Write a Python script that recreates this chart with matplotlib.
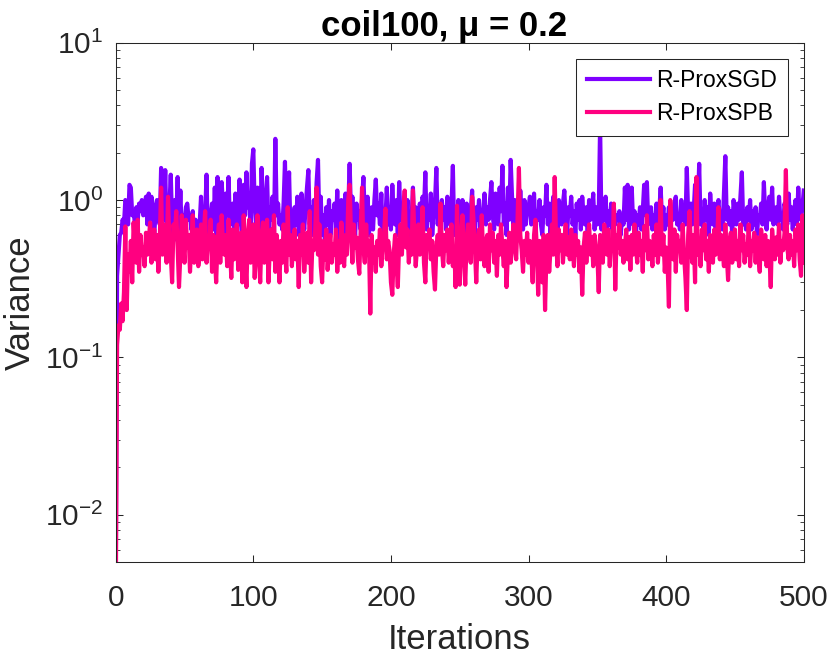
import numpy as np
import matplotlib
matplotlib.use("Agg")
from matplotlib import pyplot as plt
from matplotlib.ticker import LogLocator, NullFormatter

plt.rcParams['font.family'] = ['Liberation Sans', 'DejaVu Sans']
plt.rcParams['mathtext.fontset'] = 'custom'
plt.rcParams['mathtext.rm'] = 'Liberation Sans'
plt.rcParams['axes.unicode_minus'] = False

# values, one per iteration (0..500)
sgd = [
    0.003, 0.33, 0.45, 0.6, 0.62, 0.75, 0.7, 1.0, 0.95, 0.7,
    1.25, 1.2, 0.8, 0.85, 0.7, 0.9, 0.75, 0.95, 0.85, 1.0,
    0.8, 0.9, 1.05, 0.7, 1.1, 0.75, 1.05, 0.9, 0.6, 0.85,
    1.0, 0.8, 0.7, 1.6, 0.85, 0.75, 1.55, 0.6, 0.8, 0.9,
    1.45, 0.7, 0.55, 1.0, 0.75, 1.4, 0.65, 1.15, 0.6, 0.8,
    0.7, 0.9, 0.95, 0.75, 0.8, 0.65, 0.85, 0.5, 0.75, 0.7,
    0.45, 0.7, 1.05, 0.6, 0.9, 0.8, 1.45, 0.55, 0.7, 0.8,
    0.95, 0.65, 1.2, 0.6, 1.4, 0.7, 0.85, 1.3, 0.9, 0.5,
    1.1, 0.8, 1.4, 0.7, 0.85, 0.95, 0.6, 1.1, 0.85, 0.7,
    1.35, 0.75, 0.5, 1.25, 0.8, 1.5, 0.9, 1.05, 0.65, 1.7,
    2.1, 0.9, 0.7, 1.2, 0.75, 0.6, 1.6, 0.85, 0.7, 1.0,
    1.4, 0.65, 0.9, 0.75, 1.05, 0.6, 2.45, 0.8, 0.95, 0.7,
    0.8, 0.65, 0.95, 1.75, 0.7, 1.0, 1.5, 0.6, 0.85, 0.55,
    0.9, 0.7, 1.05, 0.6, 0.75, 1.1, 0.8, 0.65, 0.9, 1.2,
    1.55, 0.7, 0.9, 0.6, 1.0, 0.75, 1.3, 1.8, 0.7, 1.05,
    0.6, 0.8, 0.55, 0.9, 0.7, 1.0, 0.6, 0.85, 0.75, 0.95,
    0.65, 1.15, 0.55, 0.8, 1.0, 0.7, 0.6, 1.1, 0.75, 0.9,
    1.7, 0.8, 1.05, 0.7, 0.6, 0.95, 0.75, 0.85, 0.65, 1.0,
    1.4, 0.8, 0.7, 1.05, 0.6, 0.75, 0.9, 0.65, 1.0, 1.35,
    0.8, 0.95, 0.7, 1.1, 0.6, 0.85, 0.75, 1.2, 0.7, 0.9,
    0.65, 1.25, 0.8, 0.7, 1.0, 0.6, 1.3, 0.75, 0.9, 0.55,
    0.85, 0.7, 1.0, 0.6, 0.8, 0.75, 1.2, 0.65, 0.9, 0.8,
    0.6, 0.95, 0.7, 1.05, 0.85, 1.5, 0.65, 0.9, 0.75, 1.1,
    0.6, 0.8, 0.95, 1.6, 0.7, 0.85, 0.6, 1.0, 0.75, 0.9,
    0.65, 1.05, 0.8, 0.7, 0.9, 1.65, 0.6, 0.8, 0.7, 1.0,
    0.9, 0.65, 1.0, 0.75, 0.6, 0.95, 0.8, 0.7, 0.85, 1.15,
    0.7, 0.6, 0.9, 0.75, 1.0, 0.65, 0.85, 0.8, 1.1, 0.7,
    0.9, 0.75, 1.0, 1.3, 0.8, 0.65, 1.1, 0.85, 0.7, 1.2,
    0.85, 1.65, 0.7, 0.95, 0.6, 1.2, 0.75, 1.8, 1.05, 0.7,
    1.0, 0.6, 0.9, 0.75, 1.15, 0.8, 0.65, 1.0, 0.7, 0.85,
    0.9, 1.05, 0.7, 0.8, 1.1, 0.65, 0.85, 0.75, 1.0, 0.7,
    0.6, 0.9, 0.8, 1.25, 0.7, 0.95, 0.6, 0.85, 1.05, 0.75,
    0.9, 0.65, 1.0, 0.8, 0.7, 0.95, 1.15, 0.75, 0.6, 0.9,
    0.8, 1.05, 0.7, 0.85, 0.6, 0.95, 0.75, 1.0, 0.65, 1.05,
    0.8, 0.7, 0.9, 0.6, 1.0, 0.75, 0.85, 1.1, 0.65, 0.9,
    0.7, 0.8, 3.0, 0.65, 0.9, 0.75, 1.05, 0.6, 0.85, 0.7,
    0.95, 0.65, 0.9, 0.7, 0.8, 0.75, 0.85, 0.6, 0.8, 0.7,
    1.2, 0.75, 1.25, 0.65, 0.9, 1.2, 0.7, 0.85, 0.6, 0.8,
    0.7, 0.9, 0.65, 0.85, 1.25, 0.8, 1.3, 0.7, 0.75, 0.9,
    0.65, 0.8, 0.7, 0.95, 0.6, 0.85, 1.2, 0.75, 0.9, 0.65,
    0.8, 0.7, 0.9, 0.6, 0.85, 0.75, 0.95, 1.05, 0.7, 0.8,
    0.65, 1.0, 0.75, 0.9, 0.7, 1.6, 0.8, 0.65, 0.95, 0.7,
    0.85, 1.25, 0.75, 0.9, 1.7, 0.7, 0.8, 0.65, 1.0, 0.75,
    0.9, 0.6, 1.1, 0.8, 0.7, 0.95, 0.65, 0.85, 1.0, 0.75,
    0.8, 0.65, 1.1, 1.9, 0.75, 0.9, 0.7, 0.85, 0.6, 1.0,
    0.8, 0.7, 0.95, 0.75, 1.05, 1.5, 0.7, 0.85, 0.65, 0.9,
    0.75, 1.0, 0.65, 0.85, 0.7, 0.9, 0.6, 0.8, 0.75, 0.95,
    0.7, 1.3, 0.8, 0.65, 0.9, 1.05, 0.75, 1.2, 0.7, 0.85,
    0.9, 0.7, 1.05, 0.75, 0.8, 0.65, 0.95, 0.85, 0.7, 1.1,
    0.75, 0.9, 0.65, 0.85, 1.0, 0.7, 1.2, 0.8, 0.75, 0.9,
    1.15,
]
spb = [
    0.002, 0.12, 0.16, 0.15, 0.22, 0.17, 0.26, 0.68, 0.2, 0.45,
    0.35, 0.55, 0.3, 0.72, 0.5, 0.4, 0.75, 0.35, 0.6, 0.45,
    0.5, 0.38, 0.62, 0.45, 0.55, 0.72, 0.4, 0.5, 0.65, 0.42,
    0.6, 0.35, 0.55, 1.2, 0.45, 0.7, 0.5, 0.4, 1.05, 0.55,
    0.45, 0.3, 0.7, 0.6, 0.85, 0.5, 0.28, 0.45, 0.8, 0.55,
    0.4, 0.75, 0.5, 0.6, 0.35, 0.55, 0.8, 0.4, 0.5, 0.65,
    0.38, 0.45, 0.7, 0.42, 0.6, 0.85, 0.4, 0.55, 0.5, 0.75,
    0.35, 0.6, 0.45, 0.3, 0.55, 0.7, 0.4, 0.8, 0.5, 0.45,
    0.6, 0.38, 0.75, 0.5, 0.32, 0.65, 0.42, 0.55, 0.7, 0.36,
    0.5, 0.62, 0.3, 0.8, 0.45, 0.28, 0.6, 0.75, 0.4, 0.55,
    0.7, 0.32, 0.5, 0.8, 0.45, 0.3, 0.6, 0.72, 0.4, 0.55,
    0.75, 0.3, 0.5, 0.65, 0.42, 0.8, 0.35, 0.6, 0.45, 0.3,
    0.55, 0.4, 0.7, 0.5, 0.35, 0.9, 0.45, 0.6, 0.38, 0.5,
    0.65, 0.42, 0.55, 0.28, 0.6, 0.45, 0.7, 0.35, 0.5, 0.62,
    0.4, 0.85, 0.3, 0.55, 0.48, 0.65, 1.2, 0.45, 0.7, 0.38,
    0.3, 0.55, 0.42, 0.65, 0.36, 0.5, 0.6, 0.4, 0.52, 0.45,
    0.65, 0.35, 0.55, 0.4, 0.72, 0.48, 0.38, 0.6, 0.45, 1.0,
    1.25, 0.6, 0.4, 0.7, 0.5, 0.58, 0.42, 0.34, 0.65, 1.2,
    0.5, 0.4, 0.7, 0.45, 0.55, 0.19, 0.6, 0.4, 0.5, 0.35,
    0.55, 0.45, 0.65, 0.38, 0.5, 0.6, 0.88, 0.42, 0.55, 0.48,
    0.3, 0.25, 0.45, 0.6, 0.4, 0.28, 0.55, 0.7, 0.45, 0.8,
    1.15, 0.5, 0.65, 0.4, 0.55, 0.45, 1.15, 0.6, 0.38, 0.5,
    0.7, 0.45, 0.55, 0.9, 0.4, 0.3, 0.6, 0.5, 0.65, 0.42,
    0.55, 0.35, 0.27, 0.5, 0.6, 0.45, 0.95, 0.5, 0.38, 0.6,
    0.48, 0.65, 0.4, 0.55, 0.7, 0.38, 0.5, 0.28, 0.92, 0.45,
    0.29, 0.6, 0.8, 0.45, 0.29, 0.55, 0.7, 0.5, 0.4, 1.05,
    0.75, 0.5, 0.3, 0.55, 0.65, 0.42, 0.8, 0.45, 0.38, 0.55,
    0.6, 0.35, 0.7, 0.48, 0.62, 0.4, 0.55, 0.33, 0.6, 0.45,
    0.7, 0.5, 0.38, 0.55, 0.28, 0.45, 0.62, 0.4, 0.5, 0.7,
    0.55, 0.42, 0.75, 1.6, 0.6, 0.48, 0.35, 0.55, 0.45, 0.62,
    0.4, 0.55, 0.45, 0.3, 0.6, 0.75, 0.5, 0.25, 0.55, 0.4,
    0.3, 0.6, 0.2, 0.45, 0.6, 0.35, 0.5, 0.7, 0.45, 1.4,
    0.55, 0.38, 0.65, 0.48, 0.6, 0.4, 0.55, 0.7, 0.45, 0.58,
    0.42, 0.65, 0.5, 0.38, 0.6, 0.45, 0.55, 0.35, 0.5, 0.25,
    0.5, 0.62, 0.4, 0.55, 0.7, 0.45, 0.58, 0.38, 0.6, 0.5,
    0.45, 0.26, 0.6, 0.5, 0.4, 0.7, 0.52, 0.45, 0.65, 0.38,
    0.55, 0.48, 0.95, 0.27, 0.6, 0.5, 0.7, 0.45, 0.55, 0.4,
    0.5, 0.65, 0.42, 0.58, 0.36, 0.6, 0.45, 0.7, 0.5, 0.4,
    0.62, 0.45, 0.55, 0.35, 0.68, 0.48, 0.8, 0.42, 0.55, 0.5,
    0.38, 0.6, 0.45, 0.7, 0.4, 0.55, 1.0, 0.45, 0.6, 0.35,
    0.5, 0.4, 0.21, 1.0, 0.55, 0.42, 0.65, 0.35, 0.6, 0.48,
    0.55, 0.4, 0.7, 0.45, 0.32, 0.2, 0.6, 0.85, 0.5, 0.4,
    0.6, 0.3, 1.4, 0.45, 0.55, 0.38, 0.65, 0.48, 0.7, 0.42,
    0.55, 0.35, 0.6, 0.5, 0.4, 0.65, 0.45, 0.55, 0.9, 0.42,
    0.6, 0.48, 0.38, 0.7, 0.45, 0.31, 0.55, 0.62, 0.4, 0.5,
    0.65, 0.42, 0.55, 0.38, 0.7, 0.48, 0.6, 0.4, 0.52, 0.45,
    0.7, 0.38, 0.55, 0.48, 0.62, 0.4, 0.58, 0.45, 0.35, 0.65,
    0.5, 0.42, 0.6, 0.38, 0.55, 0.45, 0.28, 0.65, 0.5, 0.42,
    0.58, 0.45, 0.7, 0.4, 0.55, 0.48, 0.62, 1.55, 0.5, 0.42,
    0.6, 0.45, 0.55, 0.38, 0.65, 0.48, 0.7, 0.42, 0.33, 0.8,
    0.4,
]
iters = np.arange(len(sgd))

fig = plt.figure(figsize=(8.3, 6.56), dpi=100)
ax = fig.add_axes([0.1394, 0.1433, 0.829, 0.7916])

ax.semilogy(iters, sgd, color='#7f00ff', lw=3, label='R-ProxSGD')
ax.semilogy(iters, spb, color='#ff0080', lw=3, label='R-ProxSPB')

ax.set_xlim(0, 500)
ax.set_ylim(10**-2.3, 10)
ax.set_xticks([0, 100, 200, 300, 400, 500])
ax.yaxis.set_major_locator(LogLocator(base=10, numticks=10))
ax.yaxis.set_minor_locator(LogLocator(base=10, subs=np.arange(2, 10), numticks=20))
ax.yaxis.set_minor_formatter(NullFormatter())

ax.tick_params(which='both', direction='in', top=True, right=True, colors='#262626', labelsize=21.5)
ax.tick_params(which='major', length=5, width=0.75)
ax.tick_params(which='minor', length=2.7, width=0.6)
ax.tick_params(axis='x', pad=16)
ax.tick_params(axis='y', pad=9)
for s in ax.spines.values():
    s.set_color('#262626')
    s.set_linewidth(0.75)

ax.set_xlabel('Iterations', fontsize=25, color='#262626', labelpad=8)
ax.set_ylabel('Variance', fontsize=25, color='#262626')
ax.yaxis.set_label_coords(-0.114, 0.5)
ax.set_title('coil100, μ = 0.2', fontsize=25, fontweight='bold', pad=5, x=0.4765)

leg = ax.legend(loc='upper right', fontsize=16.5, fancybox=False, edgecolor='#262626',
                framealpha=1, borderaxespad=0.7, borderpad=0.45, handlelength=2.75,
                handletextpad=0.3, labelspacing=0.45)
leg.get_frame().set_linewidth(0.75)

fig.savefig('out.png', dpi=100)
